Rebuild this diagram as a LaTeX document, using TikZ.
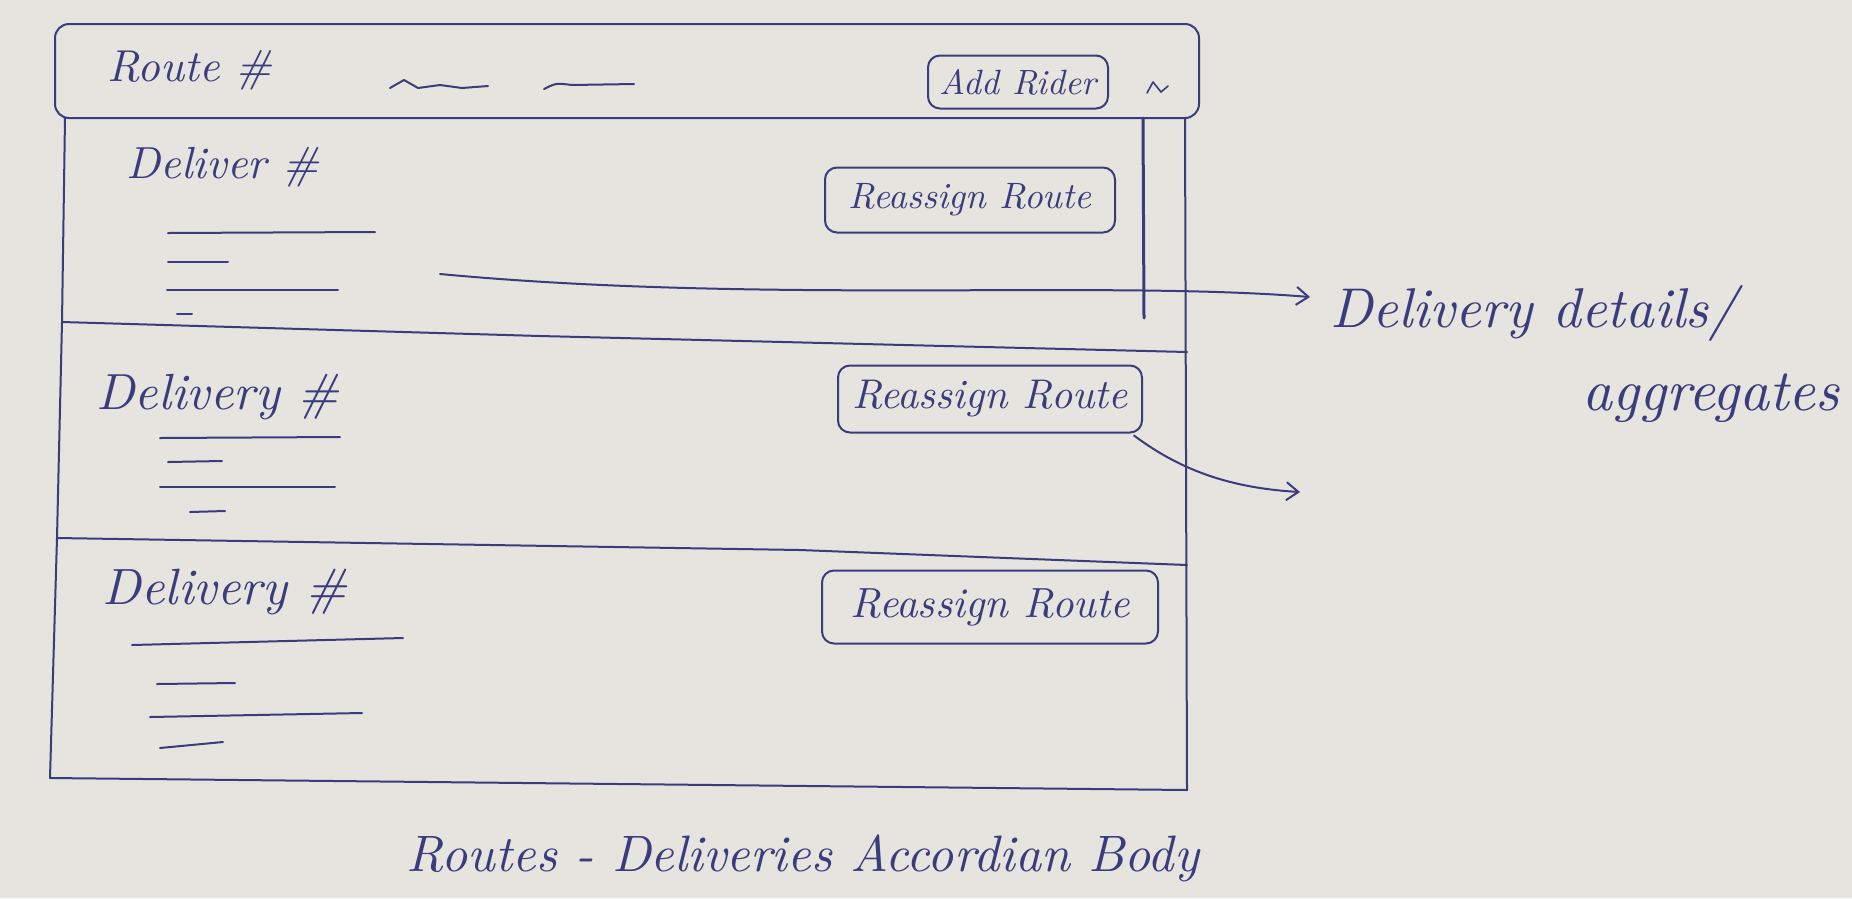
\documentclass[tikz,border=0pt]{standalone}
\usetikzlibrary{arrows.meta}
\definecolor{ink}{RGB}{58,60,125}
\definecolor{paper}{RGB}{229,228,222}
\newcommand{\fitw}[2]{\resizebox{#1pt}{!}{\itshape #2}}
\tikzset{
  pen/.style={draw=ink, line width=2pt, line cap=round, line join=round},
  btn/.style={pen, rounded corners=12pt, inner sep=0pt, text=ink},
  lbl/.style={inner sep=0pt, text=ink},
  arr/.style={pen, -{Straight Barb[length=12pt,width=18pt]}},
}
\begin{document}
\begin{tikzpicture}[x=1pt,y=-1pt]
\fill[paper] (0,0) rectangle (1852,898);
\useasboundingbox (0,0) rectangle (1852,898);

% header bar
\node[pen, rounded corners=14pt, minimum width=1144pt, minimum height=94pt, inner sep=0pt] (header) at (627,71) {};
\node[lbl] (route) at (190,70) {\fitw{165}{Route \#}};
\draw[pen] (390,88) -- (404,80) -- (418,88) -- (440,85) -- (462,88) -- (488,86);
\draw[pen] (544,89) .. controls (556,83) .. (572,85) -- (634,84);
\node[btn, minimum width=180pt, minimum height=53pt] (addrider) at (1018,82) {\fitw{157}{Add Rider}};
\draw[pen, line width=1.6pt] (1147,93) -- (1153,82) -- (1161,92) -- (1168,86);

% body outline
\draw[pen] (65,118) -- (62,322) -- (57,538) -- (50,778) -- (1187,790) -- (1185,118);
% scrollbar
\draw[pen, line width=3pt] (1143,118) -- (1144,318);
% dividers
\draw[pen] (62,322) -- (540,336) -- (1187,352);
\draw[pen] (57,538) -- (800,550) -- (1187,565);

% section 1
\node[lbl] (d1) at (223,167) {\fitw{193}{Deliver \#}};
\draw[pen] (168,233) -- (375,232);
\draw[pen] (168,262) -- (228,262);
\draw[pen] (167,290) -- (338,290);
\draw[pen] (177,314) -- (192,314);
\node[btn, minimum width=290pt, minimum height=65pt] (rr1) at (970,200) {\fitw{243}{Reassign Route}};

% section 2
\node[lbl] (d2) at (218,397) {\fitw{243}{Delivery \#}};
\draw[pen] (160,438) -- (340,437);
\draw[pen] (168,462) -- (222,461);
\draw[pen] (160,487) -- (335,487);
\draw[pen] (190,512) -- (225,511);
\node[btn, minimum width=304pt, minimum height=67pt] (rr2) at (990,399) {\fitw{275}{Reassign Route}};

% section 3
\node[lbl] (d3) at (225,592) {\fitw{244}{Delivery \#}};
\draw[pen] (132,645) -- (403,638);
\draw[pen] (157,684) -- (235,683);
\draw[pen] (150,717) -- (362,713);
\draw[pen] (160,748) -- (223,742);
\node[btn, minimum width=336pt, minimum height=73pt] (rr3) at (990,607) {\fitw{279}{Reassign Route}};

% annotation
\node[lbl, anchor=west] (details) at (1330,313) {\fitw{407}{Delivery details/}};
\node[lbl] (agg) at (1711,398) {\fitw{257}{aggregates}};
\coordinate (a1s) at (440,274);
\draw[arr] (a1s) .. controls (760,304) and (1100,280) .. ([xshift=-20pt,yshift=16pt]details.west);

\coordinate (a2e) at (1300,492);
\draw[arr] ([xshift=-9pt,yshift=-2pt]rr2.south east) .. controls (1180,470) and (1230,488) .. (a2e);

% caption
\node[lbl] (caption) at (803,858) {\fitw{792}{Routes - Deliveries Accordian Body}};
\end{tikzpicture}
\end{document}
